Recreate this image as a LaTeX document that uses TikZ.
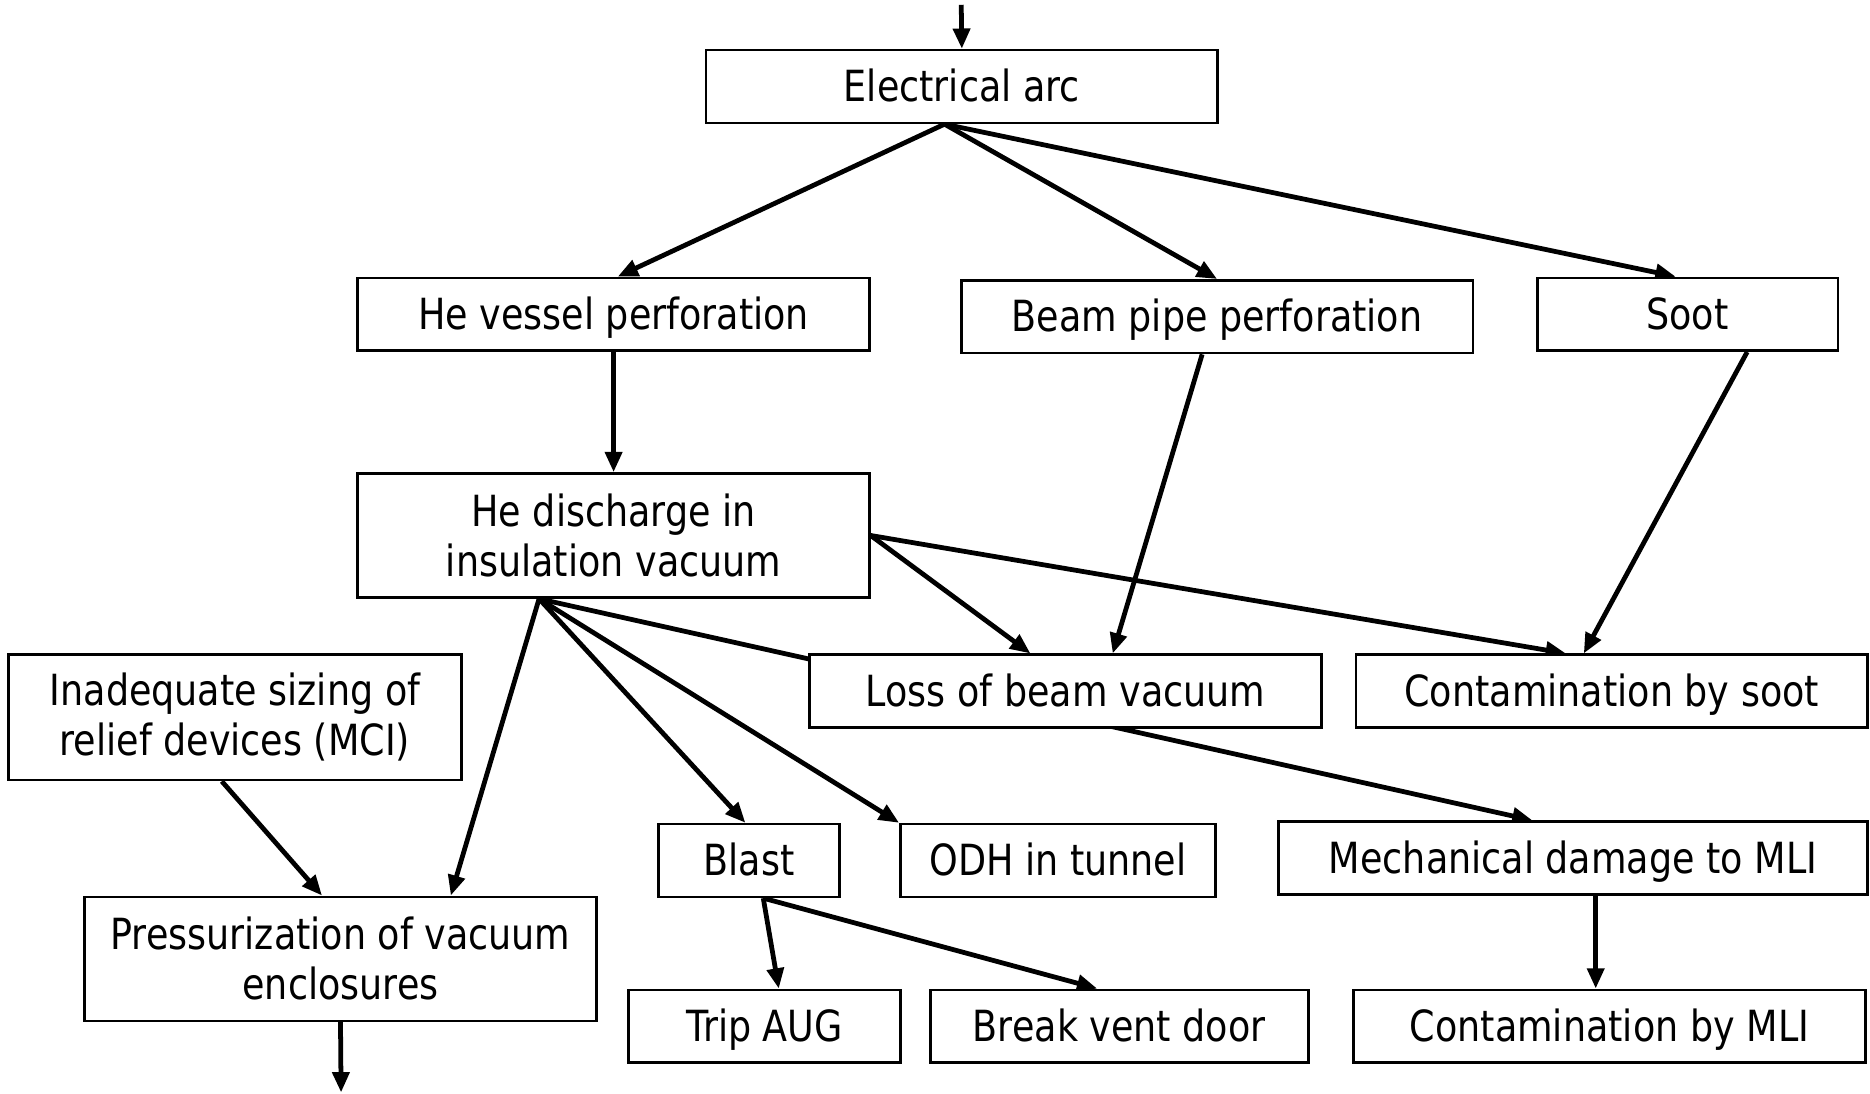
\documentclass[tikz,border=0pt]{standalone}
\usepackage{fontspec}
\setmainfont{DejaVu Sans}[FakeStretch=0.85]
\usetikzlibrary{arrows.meta,backgrounds}
\begin{document}
\begin{tikzpicture}[x=0.5pt,y=-0.5pt,
 box/.style={draw, line width=1.1pt, fill=white, inner sep=0pt, align=center, font=\fontsize{18}{21}\selectfont},
 one/.style={box, minimum height=30.5pt, text height=14.5pt, text depth=1.8pt},
 conn/.style={line width=2pt, -{Triangle[length=8.5pt,width=7pt]}}]
\useasboundingbox (0,0) rectangle (1568,917);
\node[one, minimum width=214.5pt] (arc) at (806.5,72.5) {Electrical arc};
\node[one, minimum width=214.5pt] (hev) at (514.5,263.5) {He vessel perforation};
\node[one, minimum width=214.5pt] (beam) at (1020.5,265.5) {Beam pipe perforation};
\node[one, minimum width=126pt] (soot) at (1415,263.5) {Soot};
\node[box, minimum width=214.5pt, minimum height=52pt] (hed) at (514.5,449) {He discharge in\\insulation vacuum};
\node[box, minimum width=190pt, minimum height=52.5pt] (inad) at (197,601.5) {Inadequate sizing of\\relief devices (MCI)};
\node[one, minimum width=214.5pt] (loss) at (893.5,579.5) {Loss of beam vacuum};
\node[one, minimum width=214.5pt] (cs) at (1351.5,579.5) {Contamination by soot};
\node[one, minimum width=76pt] (blast) at (628,721.5) {Blast};
\node[one, minimum width=132pt] (odh) at (887,721.5) {ODH in tunnel};
\node[one, minimum width=247pt] (mech) at (1319,719.5) {Mechanical damage to MLI};
\node[box, minimum width=214.5pt, minimum height=52pt] (pres) at (285.5,804) {Pressurization of vacuum\\enclosures};
\node[one, minimum width=114pt] (trip) at (641,860.5) {Trip AUG};
\node[one, minimum width=158.5pt] (brk) at (938.5,860.5) {Break vent door};
\node[one, minimum width=214.5pt] (cmli) at (1349.5,860.5) {Contamination by MLI};
\coordinate (in) at (806,4);
\coordinate (out) at (286,916);
\begin{pgfonlayer}{background}
\draw[conn] (in) -- (arc.north);
\draw[conn] ([xshift=-7.25pt]arc.south) -- ([xshift=1.75pt]hev.north);
\draw[conn] ([xshift=-7.25pt]arc.south) -- (beam.north);
\draw[conn] ([xshift=-7.25pt]arc.south) -- ([xshift=-5pt]soot.north);
\draw[conn] (hev.south) -- (hed.north);
\draw[conn] ([xshift=-6.25pt]beam.south) -- ([xshift=19.75pt]loss.north);
\draw[conn] ([xshift=25pt]soot.south) -- ([xshift=-11.75pt]cs.north);
\draw[conn] (hed.east) -- ([xshift=-14.75pt]loss.north);
\draw[conn] (hed.east) -- ([xshift=-19.25pt]cs.north);
\draw[conn] ([xshift=-31.25pt]hed.south) -- ([xshift=46.25pt]pres.north);
\draw[conn] ([xshift=-31.25pt]hed.south) -- ([xshift=-1.5pt]blast.north);
\draw[conn] ([xshift=-31.25pt]hed.south) -- (odh.north west);
\draw[conn] ([xshift=-31.25pt]hed.south) -- ([xshift=-17pt]mech.north);
\draw[conn] ([xshift=-5.5pt]inad.south) -- ([xshift=-7.75pt]pres.north);
\draw[conn] ([xshift=6pt]blast.south) -- ([xshift=6pt]trip.north);
\draw[conn] ([xshift=6pt]blast.south) -- ([xshift=-9.25pt]brk.north);
\draw[conn] ([xshift=9.5pt]mech.south) -- ([xshift=-5.75pt]cmli.north);
\draw[conn] (pres.south) -- (out);
\end{pgfonlayer}
\end{tikzpicture}
\end{document}
